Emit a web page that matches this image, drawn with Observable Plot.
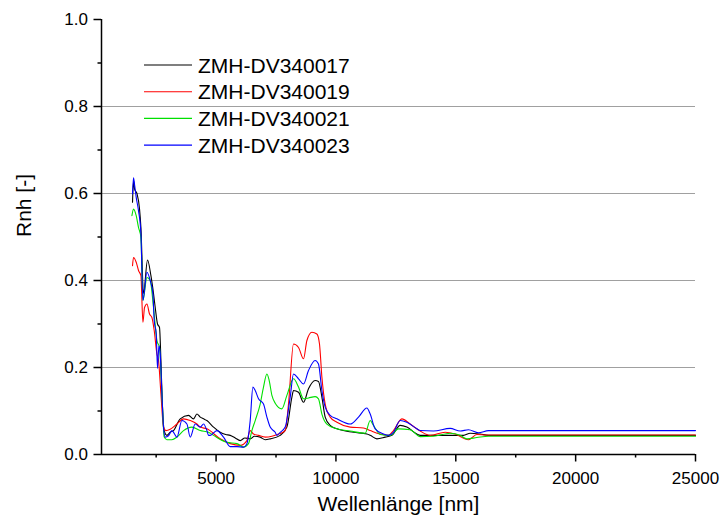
<!DOCTYPE html>
<html>
<head>
<meta charset="utf-8">
<script src="https://cdn.jsdelivr.net/npm/d3@7"></script>
<script src="https://cdn.jsdelivr.net/npm/@observablehq/plot@0.6"></script>
<style>
  html, body { margin: 0; padding: 0; background: #fff; }
  svg { display: block; }
</style>
</head>
<body>
<div id="chart"></div>
<script>
// ---- Data ----
const seriesNames = ["ZMH-DV340017", "ZMH-DV340019", "ZMH-DV340021", "ZMH-DV340023"];
const seriesColors = ["#000000", "#ff0000", "#00e000", "#0000ff"];

const wl17 = [1514,1560,1600,1698,1806,1864,1973,2140,2282,2390,2461,2557,2640,2699,2753,2836,2949,3087,3224,3504,3850,4058,4200,4338,4476,4617,4893,5172,5400,5589,5800,6006,6200,6423,6600,6840,7050,7258,7675,7954,8163,8230,8439,8647,8855,9134,9272,9414,9552,9760,10040,10732,11291,11429,11708,12054,12334,12680,12959,13376,13514,15320,15600,16017,16363,25000];
const val17 = [0.580,0.629,0.610,0.600,0.565,0.522,0.370,0.447,0.411,0.370,0.338,0.300,0.292,0.216,0.124,0.055,0.044,0.051,0.055,0.082,0.090,0.082,0.093,0.086,0.082,0.078,0.063,0.051,0.046,0.044,0.038,0.032,0.038,0.036,0.042,0.040,0.034,0.036,0.044,0.063,0.132,0.147,0.143,0.120,0.151,0.170,0.168,0.132,0.086,0.067,0.059,0.051,0.047,0.044,0.036,0.040,0.044,0.067,0.063,0.047,0.044,0.044,0.049,0.047,0.044,0.044];

const wl19 = [1514,1556,1668,1764,1864,1948,2015,2115,2223,2323,2419,2532,2599,2699,2807,2907,3087,3366,3641,3921,4200,4338,4617,5172,5589,6006,6286,6423,6561,6770,7049,7329,7604,7883,8021,8230,8439,8647,8789,8997,9205,9314,9414,9552,9760,10040,10594,11149,11429,11846,12192,12400,12750,13097,13514,13931,14557,14974,15529,15879,16296,25000];
const val19 = [0.434,0.453,0.442,0.423,0.411,0.304,0.338,0.346,0.323,0.315,0.285,0.231,0.216,0.140,0.063,0.055,0.058,0.070,0.082,0.078,0.070,0.063,0.059,0.036,0.025,0.021,0.032,0.055,0.047,0.044,0.040,0.042,0.047,0.055,0.116,0.254,0.246,0.220,0.262,0.281,0.277,0.254,0.178,0.116,0.086,0.074,0.063,0.061,0.055,0.047,0.044,0.055,0.082,0.070,0.054,0.044,0.051,0.047,0.034,0.046,0.045,0.045];

const wl21 = [1489,1556,1668,1764,1864,1948,2115,2252,2390,2532,2640,2740,2836,2949,3157,3366,3641,3992,4338,4684,4893,5451,5869,6144,6353,6494,6632,6840,6978,7120,7216,7329,7466,7745,7954,8230,8439,8647,8855,9134,9272,9414,9622,10040,10594,11220,11429,11566,11846,12263,12609,13097,13514,14069,14765,15183,15462,15879,16363,25000];
const val21 = [0.549,0.564,0.549,0.522,0.499,0.354,0.407,0.400,0.338,0.262,0.246,0.140,0.040,0.034,0.034,0.040,0.055,0.063,0.055,0.051,0.044,0.028,0.025,0.017,0.025,0.055,0.078,0.116,0.155,0.185,0.170,0.136,0.118,0.105,0.136,0.174,0.155,0.128,0.130,0.133,0.128,0.093,0.070,0.059,0.054,0.049,0.078,0.067,0.046,0.044,0.059,0.057,0.041,0.042,0.049,0.044,0.036,0.039,0.042,0.042];

const wl23 = [1514,1556,1600,1668,1765,1864,1948,2115,2252,2365,2419,2503,2557,2615,2669,2740,2807,2878,3016,3157,3366,3574,3783,3921,4129,4338,4476,4617,4684,4755,5034,5310,5589,5869,6144,6286,6423,6536,6632,6770,6978,7120,7258,7466,7537,7675,7883,8092,8230,8439,8647,8855,9134,9272,9414,9552,9760,10040,10594,10941,11291,11429,11637,11983,12192,12400,12680,12959,13376,13514,14069,14765,15183,15529,15946,16363,25000];
const val23 = [0.599,0.636,0.620,0.591,0.560,0.508,0.354,0.419,0.400,0.369,0.308,0.278,0.198,0.250,0.232,0.140,0.063,0.040,0.043,0.055,0.040,0.078,0.070,0.040,0.070,0.063,0.070,0.055,0.044,0.044,0.055,0.040,0.018,0.018,0.017,0.025,0.078,0.155,0.147,0.128,0.116,0.086,0.063,0.051,0.044,0.051,0.063,0.132,0.185,0.174,0.162,0.193,0.216,0.208,0.147,0.109,0.090,0.082,0.070,0.086,0.107,0.093,0.059,0.047,0.044,0.051,0.078,0.074,0.059,0.055,0.054,0.060,0.054,0.057,0.050,0.055,0.055];

const xMajorTicks = [5000, 10000, 15000, 20000, 25000];
const xMinorTicks = [2500, 7500, 12500, 17500, 22500];
const yMajorTicks = [0, 0.2, 0.4, 0.6, 0.8, 1.0];
const yMinorTicks = [0.1, 0.3, 0.5, 0.7, 0.9];
const yGridLines = [0.2, 0.4, 0.6, 0.8];
const xTitle = "Wellenlänge [nm]";
const yTitle = "Rnh [-]";

// ---- Build table ----
const seriesWl = [wl17, wl19, wl21, wl23];
const seriesVal = [val17, val19, val21, val23];
const rows = seriesNames.flatMap((name, i) =>
  seriesWl[i].map((w, j) => ({name, wl: w, val: seriesVal[i][j]}))
);

const xMin = 220, xMax = 25000;

const chart = Plot.plot({
  width: 723,
  height: 524,
  marginLeft: 101,
  marginRight: 28,
  marginTop: 19,
  marginBottom: 70,
  style: {fontFamily: "'Liberation Sans', Arial, sans-serif", fontSize: "17px", color: "black", background: "white"},
  x: {domain: [xMin, xMax]},
  y: {domain: [0, 1]},
  color: {domain: seriesNames, range: seriesColors},
  marks: [
    Plot.ruleY(yGridLines, {stroke: "#a0a0a0", strokeWidth: 1}),
    Plot.line(rows, {x: "wl", y: "val", z: "name", stroke: "name", curve: "monotone-x", strokeWidth: 1.1}),
    Plot.axisX({ticks: xMajorTicks, tickSize: 7.5, tickPadding: 10, tickFormat: d3.format("d"), label: null, strokeWidth: 1.5, fontSize: 17}),
    Plot.axisX({ticks: xMinorTicks, tickSize: 3.5, tickFormat: () => "", label: null, strokeWidth: 1.5}),
    Plot.axisY({ticks: yMajorTicks, tickSize: 7.5, tickPadding: 6, tickFormat: d3.format(".1f"), label: null, strokeWidth: 1.5, fontSize: 17}),
    Plot.axisY({ticks: yMinorTicks, tickSize: 3.5, tickFormat: () => "", label: null, strokeWidth: 1.5}),
    Plot.ruleY([0], {stroke: "black", strokeWidth: 1.5}),
    Plot.ruleX([xMin], {stroke: "black", strokeWidth: 1.5}),
    Plot.text([xTitle], {text: d => d, frameAnchor: "bottom", dy: 56, fontSize: 21}),
    Plot.text([yTitle], {text: d => d, frameAnchor: "left", dx: -77, rotate: -90, fontSize: 21})
  ]
});

// ---- In-plot legend ----
const legend = d3.select(chart).append("g")
  .attr("font-family", "'Liberation Sans', Arial, sans-serif")
  .attr("font-size", 21)
  .attr("text-anchor", "start");
seriesNames.forEach((name, i) => {
  const y = 65 + i * 26.7;
  legend.append("line")
    .attr("x1", 144).attr("x2", 192)
    .attr("y1", y).attr("y2", y)
    .attr("stroke", seriesColors[i]).attr("stroke-width", 1.1);
  legend.append("text")
    .attr("x", 198).attr("y", y + 7.5)
    .attr("fill", "black")
    .attr("text-anchor", "start")
    .text(name);
});

document.getElementById("chart").appendChild(chart);
</script>
</body>
</html>
